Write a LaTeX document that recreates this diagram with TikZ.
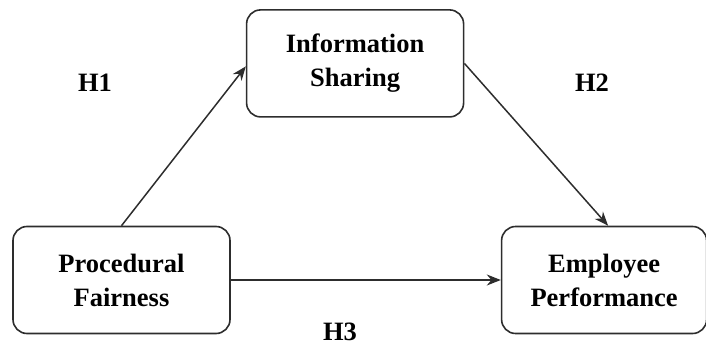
\documentclass[tikz,border=0pt]{standalone}
\usepackage{fontspec}
\setmainfont{Liberation Serif}
\usepackage{xcolor}
\definecolor{hpLine}{RGB}{45,45,45}
\usetikzlibrary{positioning,arrows.meta}

\begin{document}
\begin{tikzpicture}[x=1pt,y=-1pt,node distance=270pt,
  b/.style={draw=hpLine,line width=1.6pt,rounded corners=14pt,align=center,inner sep=0pt,
    font=\bfseries\fontsize{26.5}{34}\selectfont,minimum width=217pt,minimum height=107pt},
  h/.style={font=\bfseries\fontsize{26.5}{34}\selectfont},
  a/.style={-{Stealth[length=14pt,width=11pt]},hpLine,line width=1.5pt}]
  \useasboundingbox (0,0) rectangle (706,345);
  \node[b] (proc) at (121.5,280) {Procedural\\Fairness};
  \node[b,minimum width=205pt,right=of proc] (emp) {Employee\\Performance};
  \node[b,above right=108pt and 15pt of proc] (info) {Information\\Sharing};
  \node[h] (h1) at (95,83) {H1};
  \node[h] (h2) at (592,83) {H2};
  \node[h] (h3) at (340,332) {H3};
  \draw[a] (proc.north) -- ([yshift=-3pt]info.west);
  \draw[a] (info.east) -- ([xshift=4pt]emp.north);
  \draw[a] (proc) -- (emp);
\end{tikzpicture}
\end{document}
